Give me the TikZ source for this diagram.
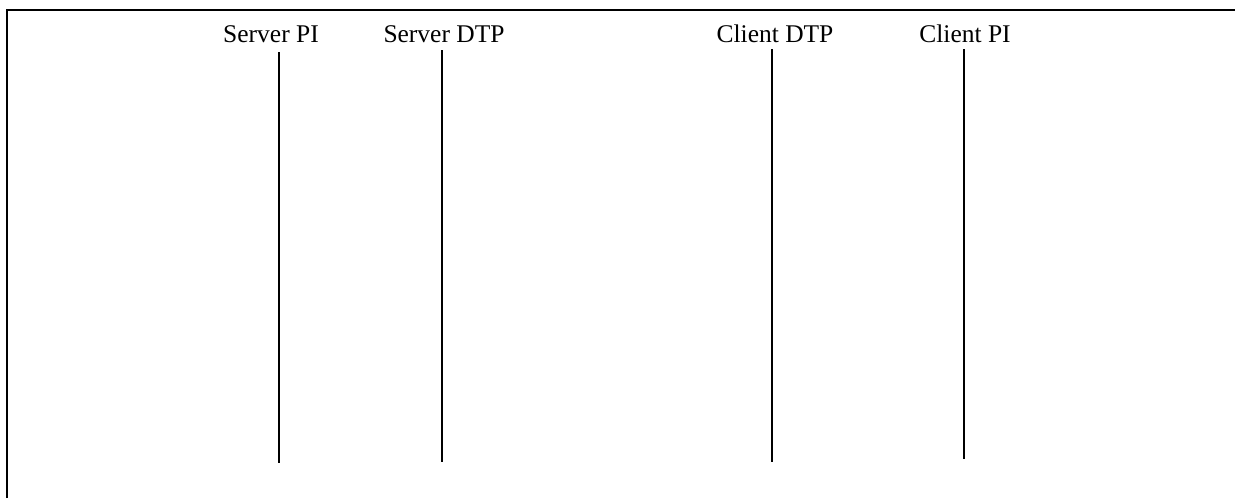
\documentclass[tikz,border=0pt]{standalone}
\usepackage{fontspec}
\setmainfont{Liberation Serif}
\begin{document}
\begin{tikzpicture}[
  x=0.02cm,
  y=-0.02cm,
  every node/.style={font=\fontsize{14.5}{17}\selectfont, black},
  frame/.style={black, line width=1.1pt},
  lifeline/.style={black, line width=0.8pt},
  role/.style={anchor=base, inner sep=0pt}
]
  \useasboundingbox (0,0) rectangle (1235,498);

  % ---- frame, open on the right and at the bottom ----------------------
  \draw[frame] (7,498) -- (7,10) -- (1235,10);

  % ---- the four parties ------------------------------------------------
  \node[role] (spi) at (271,42) {Server PI};
  \node[role] (sdtp) at (444,42) {Server DTP};
  \node[role] (cdtp) at (775,42) {Client DTP};
  \node[role] (cpi) at (965,42) {Client PI};

  % ---- ends of the lifelines -------------------------------------------
  \coordinate (spi top) at (279,52);
  \coordinate (spi end) at (279,463);
  \coordinate (sdtp top) at (442,50);
  \coordinate (sdtp end) at (442,462);
  \coordinate (cdtp top) at (772,49);
  \coordinate (cdtp end) at (772,462);
  \coordinate (cpi top) at (964,49);
  \coordinate (cpi end) at (964,459);

  % ---- lifelines -------------------------------------------------------
  \draw[lifeline] (spi top) -- (spi end);
  \draw[lifeline] (sdtp top) -- (sdtp end);
  \draw[lifeline] (cdtp top) -- (cdtp end);
  \draw[lifeline] (cpi top) -- (cpi end);
\end{tikzpicture}
\end{document}
